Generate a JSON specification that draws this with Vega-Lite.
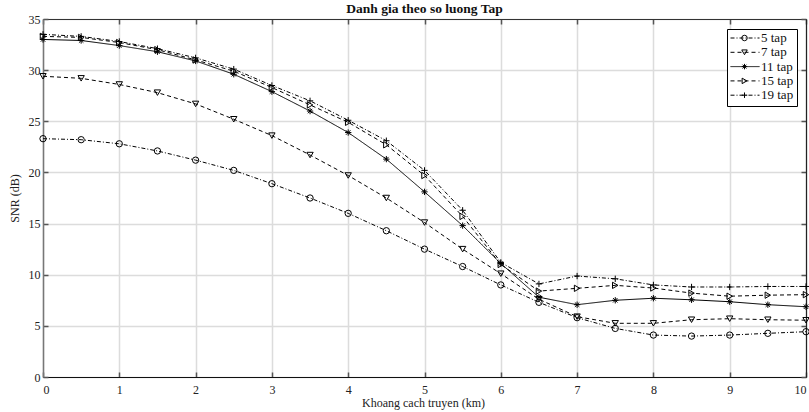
{
  "$schema": "https://vega.github.io/schema/vega-lite/v6.json",
  "width": 763,
  "height": 358,
  "autosize": {"type": "none"},
  "padding": {"left": 43, "top": 19, "right": 3, "bottom": 35},
  "background": "white",
  "config": {
    "font": "Liberation Serif",
    "view": {"stroke": null},
    "axis": {"labelFont": "Liberation Serif", "titleFont": "Liberation Serif", "labelFontSize": 12, "titleFontSize": 12, "titleFontWeight": "normal", "labelColor": "#222", "titleColor": "#222"}
  },
  "title": {"text": "Danh gia theo so luong Tap", "fontSize": 13.5, "font": "Liberation Serif", "fontWeight": "bold", "color": "#111", "offset": 0, "dy": 2},
  "data": {"values": [
    {"x": 0, "s": "5 tap", "m": "o", "y": 23.3}, {"x": 0.5, "s": "5 tap", "m": "o", "y": 23.2}, {"x": 1, "s": "5 tap", "m": "o", "y": 22.8}, {"x": 1.5, "s": "5 tap", "m": "o", "y": 22.1}, {"x": 2, "s": "5 tap", "m": "o", "y": 21.2}, {"x": 2.5, "s": "5 tap", "m": "o", "y": 20.2}, {"x": 3, "s": "5 tap", "m": "o", "y": 18.9}, {"x": 3.5, "s": "5 tap", "m": "o", "y": 17.5}, {"x": 4, "s": "5 tap", "m": "o", "y": 16.0}, {"x": 4.5, "s": "5 tap", "m": "o", "y": 14.3}, {"x": 5, "s": "5 tap", "m": "o", "y": 12.5}, {"x": 5.5, "s": "5 tap", "m": "o", "y": 10.8}, {"x": 6, "s": "5 tap", "m": "o", "y": 9.0}, {"x": 6.5, "s": "5 tap", "m": "o", "y": 7.3}, {"x": 7, "s": "5 tap", "m": "o", "y": 5.8}, {"x": 7.5, "s": "5 tap", "m": "o", "y": 4.75}, {"x": 8, "s": "5 tap", "m": "o", "y": 4.1}, {"x": 8.5, "s": "5 tap", "m": "o", "y": 4.0}, {"x": 9, "s": "5 tap", "m": "o", "y": 4.1}, {"x": 9.5, "s": "5 tap", "m": "o", "y": 4.27}, {"x": 10, "s": "5 tap", "m": "o", "y": 4.43},
    {"x": 0, "s": "7 tap", "m": "v", "y": 29.4}, {"x": 0.5, "s": "7 tap", "m": "v", "y": 29.2}, {"x": 1, "s": "7 tap", "m": "v", "y": 28.6}, {"x": 1.5, "s": "7 tap", "m": "v", "y": 27.8}, {"x": 2, "s": "7 tap", "m": "v", "y": 26.7}, {"x": 2.5, "s": "7 tap", "m": "v", "y": 25.2}, {"x": 3, "s": "7 tap", "m": "v", "y": 23.6}, {"x": 3.5, "s": "7 tap", "m": "v", "y": 21.7}, {"x": 4, "s": "7 tap", "m": "v", "y": 19.7}, {"x": 4.5, "s": "7 tap", "m": "v", "y": 17.5}, {"x": 5, "s": "7 tap", "m": "v", "y": 15.1}, {"x": 5.5, "s": "7 tap", "m": "v", "y": 12.5}, {"x": 6, "s": "7 tap", "m": "v", "y": 10.1}, {"x": 6.5, "s": "7 tap", "m": "v", "y": 7.6}, {"x": 7, "s": "7 tap", "m": "v", "y": 5.9}, {"x": 7.5, "s": "7 tap", "m": "v", "y": 5.25}, {"x": 8, "s": "7 tap", "m": "v", "y": 5.25}, {"x": 8.5, "s": "7 tap", "m": "v", "y": 5.6}, {"x": 9, "s": "7 tap", "m": "v", "y": 5.7}, {"x": 9.5, "s": "7 tap", "m": "v", "y": 5.6}, {"x": 10, "s": "7 tap", "m": "v", "y": 5.55},
    {"x": 0, "s": "11 tap", "m": "*", "y": 33.0}, {"x": 0.5, "s": "11 tap", "m": "*", "y": 32.9}, {"x": 1, "s": "11 tap", "m": "*", "y": 32.4}, {"x": 1.5, "s": "11 tap", "m": "*", "y": 31.8}, {"x": 2, "s": "11 tap", "m": "*", "y": 30.9}, {"x": 2.5, "s": "11 tap", "m": "*", "y": 29.6}, {"x": 3, "s": "11 tap", "m": "*", "y": 27.9}, {"x": 3.5, "s": "11 tap", "m": "*", "y": 26.0}, {"x": 4, "s": "11 tap", "m": "*", "y": 23.9}, {"x": 4.5, "s": "11 tap", "m": "*", "y": 21.3}, {"x": 5, "s": "11 tap", "m": "*", "y": 18.1}, {"x": 5.5, "s": "11 tap", "m": "*", "y": 14.8}, {"x": 6, "s": "11 tap", "m": "*", "y": 11.1}, {"x": 6.5, "s": "11 tap", "m": "*", "y": 7.8}, {"x": 7, "s": "11 tap", "m": "*", "y": 7.07}, {"x": 7.5, "s": "11 tap", "m": "*", "y": 7.5}, {"x": 8, "s": "11 tap", "m": "*", "y": 7.7}, {"x": 8.5, "s": "11 tap", "m": "*", "y": 7.55}, {"x": 9, "s": "11 tap", "m": "*", "y": 7.36}, {"x": 9.5, "s": "11 tap", "m": "*", "y": 7.07}, {"x": 10, "s": "11 tap", "m": "*", "y": 6.87},
    {"x": 0, "s": "15 tap", "m": ">", "y": 33.3}, {"x": 0.5, "s": "15 tap", "m": ">", "y": 33.2}, {"x": 1, "s": "15 tap", "m": ">", "y": 32.7}, {"x": 1.5, "s": "15 tap", "m": ">", "y": 32.0}, {"x": 2, "s": "15 tap", "m": ">", "y": 31.0}, {"x": 2.5, "s": "15 tap", "m": ">", "y": 29.9}, {"x": 3, "s": "15 tap", "m": ">", "y": 28.3}, {"x": 3.5, "s": "15 tap", "m": ">", "y": 26.6}, {"x": 4, "s": "15 tap", "m": ">", "y": 24.9}, {"x": 4.5, "s": "15 tap", "m": ">", "y": 22.7}, {"x": 5, "s": "15 tap", "m": ">", "y": 19.7}, {"x": 5.5, "s": "15 tap", "m": ">", "y": 15.7}, {"x": 6, "s": "15 tap", "m": ">", "y": 11.0}, {"x": 6.5, "s": "15 tap", "m": ">", "y": 8.4}, {"x": 7, "s": "15 tap", "m": ">", "y": 8.67}, {"x": 7.5, "s": "15 tap", "m": ">", "y": 8.96}, {"x": 8, "s": "15 tap", "m": ">", "y": 8.7}, {"x": 8.5, "s": "15 tap", "m": ">", "y": 8.2}, {"x": 9, "s": "15 tap", "m": ">", "y": 7.9}, {"x": 9.5, "s": "15 tap", "m": ">", "y": 8.0}, {"x": 10, "s": "15 tap", "m": ">", "y": 8.05},
    {"x": 0, "s": "19 tap", "m": "+", "y": 33.5}, {"x": 0.5, "s": "19 tap", "m": "+", "y": 33.3}, {"x": 1, "s": "19 tap", "m": "+", "y": 32.8}, {"x": 1.5, "s": "19 tap", "m": "+", "y": 32.1}, {"x": 2, "s": "19 tap", "m": "+", "y": 31.2}, {"x": 2.5, "s": "19 tap", "m": "+", "y": 30.1}, {"x": 3, "s": "19 tap", "m": "+", "y": 28.5}, {"x": 3.5, "s": "19 tap", "m": "+", "y": 27.0}, {"x": 4, "s": "19 tap", "m": "+", "y": 25.1}, {"x": 4.5, "s": "19 tap", "m": "+", "y": 23.1}, {"x": 5, "s": "19 tap", "m": "+", "y": 20.2}, {"x": 5.5, "s": "19 tap", "m": "+", "y": 16.3}, {"x": 6, "s": "19 tap", "m": "+", "y": 11.2}, {"x": 6.5, "s": "19 tap", "m": "+", "y": 9.1}, {"x": 7, "s": "19 tap", "m": "+", "y": 9.87}, {"x": 7.5, "s": "19 tap", "m": "+", "y": 9.6}, {"x": 8, "s": "19 tap", "m": "+", "y": 9.0}, {"x": 8.5, "s": "19 tap", "m": "+", "y": 8.8}, {"x": 9, "s": "19 tap", "m": "+", "y": 8.8}, {"x": 9.5, "s": "19 tap", "m": "+", "y": 8.85}, {"x": 10, "s": "19 tap", "m": "+", "y": 8.85}
  ]},
  "layer": [
    {
      "mark": {"type": "line", "color": "black", "strokeWidth": 1},
      "encoding": {
        "x": {"field": "x", "type": "quantitative", "scale": {"domain": [0, 10], "nice": false},
          "axis": {"title": "Khoang cach truyen (km)", "values": [0,1,2,3,4,5,6,7,8,9,10], "grid": true, "gridColor": "#dcdcdc", "gridWidth": 1.5, "domainColor": "#111", "domainWidth": 1.2, "tickColor": "#555", "tickSize": -5, "tickWidth": 1.5, "labelPadding": 12, "titleX": 380, "titleAlign": "center", "titleY": 20}},
        "y": {"field": "y", "type": "quantitative", "scale": {"domain": [0, 35], "nice": false},
          "axis": {"title": "SNR (dB)", "values": [0,5,10,15,20,25,30,35], "grid": true, "gridColor": "#dcdcdc", "gridWidth": 1.5, "domainColor": "#777", "domainWidth": 1.5, "tickColor": "#555", "tickSize": -5, "tickWidth": 1.5, "labelPadding": 8, "titleX": -22}},
        "strokeDash": {"field": "s", "type": "nominal",
          "scale": {"domain": ["5 tap", "7 tap", "11 tap", "15 tap", "19 tap"], "range": [[4, 2, 1, 2], [4, 3], [1, 0], [4, 3], [4, 2, 1, 2]]},
          "legend": {"orient": "none", "legendX": 684, "legendY": 10, "title": null, "symbolType": "stroke", "symbolSize": 841, "clipHeight": 12, "symbolStrokeColor": "black", "symbolStrokeWidth": 1, "labelFont": "Liberation Serif", "labelFontSize": 13, "labelColor": "#111", "labelOffset": 1, "rowPadding": 1.3, "padding": 3, "fillColor": "white", "strokeColor": "black", "zindex": 0}}
      }
    },
    {
      "mark": {"type": "point", "filled": false, "color": "black", "strokeWidth": 1, "size": 40, "opacity": 1},
      "encoding": {
        "x": {"field": "x", "type": "quantitative", "axis": {"orient": "top", "labels": false, "title": null, "grid": false, "values": [0,1,2,3,4,5,6,7,8,9,10], "domainColor": "#333", "domainWidth": 1.2, "tickColor": "#555", "tickSize": -5, "tickWidth": 1.5}},
        "y": {"field": "y", "type": "quantitative", "axis": {"orient": "right", "labels": false, "title": null, "grid": false, "values": [0,5,10,15,20,25,30,35], "domainColor": "#222", "domainWidth": 1.2, "tickColor": "#555", "tickSize": -5, "tickWidth": 1.5}},
        "shape": {"field": "m", "type": "nominal",
          "scale": {"domain": ["o", "v", "*", ">", "+"], "range": ["circle", "triangle-down", "M-1,0L1,0M0,-1L0,1M-0.7,-0.7L0.7,0.7M-0.7,0.7L0.7,-0.7", "triangle-right", "M-1,0L1,0M0,-1L0,1"]},
          "legend": {"orient": "none", "legendX": 684, "legendY": 10, "title": null, "symbolSize": 30, "clipHeight": 12, "symbolStrokeColor": "black", "symbolFillColor": "white", "symbolStrokeWidth": 1, "symbolOffset": 8, "labelExpr": "''", "labelFontSize": 13, "labelOffset": 1, "rowPadding": 1.3, "padding": 3, "zindex": 1}}
      }
    }
  ],
  "resolve": {"axis": {"x": "independent", "y": "independent"}}
}
